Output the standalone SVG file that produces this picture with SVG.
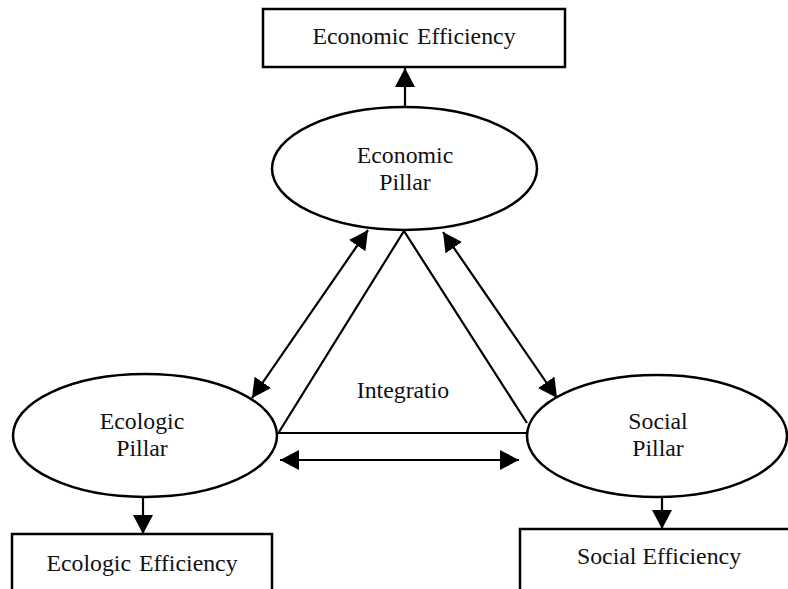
<svg xmlns="http://www.w3.org/2000/svg" width="788" height="589" viewBox="0 0 788 589">
<style>
.box{fill:#fff;stroke:#000;stroke-width:2.5}
.ell{fill:#fff;stroke:#000;stroke-width:2.5}
.ln{fill:none;stroke:#000;stroke-width:2.2}
.t{font-family:"Liberation Serif","Times New Roman",serif;font-size:23.8px;fill:#111;text-anchor:middle}
</style>
<defs>
<marker id="ah" markerUnits="userSpaceOnUse" markerWidth="22" markerHeight="22" refX="19" refY="10" orient="auto-start-reverse" viewBox="0 0 22 22">
<path d="M0,0 L19,10 L0,20 z" fill="#000"/>
</marker>
</defs>
<rect width="788" height="589" fill="#fff"/>
<g id="connectors">
<line class="ln" x1="405" y1="107" x2="405" y2="68" marker-end="url(#ah)"/>
<line class="ln" x1="143" y1="497" x2="143" y2="534" marker-end="url(#ah)"/>
<line class="ln" x1="662" y1="497" x2="662" y2="529" marker-end="url(#ah)"/>
<polyline class="ln" points="279,432 404,231 527,423"/>
<line class="ln" x1="278" y1="433" x2="527" y2="433"/>
<line class="ln" x1="368" y1="230" x2="252" y2="398" marker-start="url(#ah)" marker-end="url(#ah)"/>
<line class="ln" x1="443" y1="232" x2="557" y2="398" marker-start="url(#ah)" marker-end="url(#ah)"/>
<line class="ln" x1="280" y1="460" x2="519" y2="460" marker-start="url(#ah)" marker-end="url(#ah)"/>
</g>
<g id="economic-efficiency">
<rect class="box" x="263" y="9" width="302" height="58"/>
<text class="t" x="414" y="44" word-spacing="2">Economic Efficiency</text>
</g>
<g id="economic-pillar">
<ellipse class="ell" cx="404.5" cy="168.5" rx="132.5" ry="61.5"/>
<text class="t" x="405" y="163">Economic</text>
<text class="t" x="405" y="190">Pillar</text>
</g>
<g id="ecologic-pillar">
<ellipse class="ell" cx="145" cy="435.5" rx="132" ry="61.5"/>
<text class="t" x="142" y="429">Ecologic</text>
<text class="t" x="142" y="456">Pillar</text>
</g>
<g id="social-pillar">
<ellipse class="ell" cx="657" cy="436" rx="130" ry="61"/>
<text class="t" x="658" y="429">Social</text>
<text class="t" x="658" y="456">Pillar</text>
</g>
<g id="integration">
<text class="t" x="403" y="398">Integratio</text>
</g>
<g id="ecologic-efficiency">
<rect class="box" x="12" y="534" width="260" height="70"/>
<text class="t" x="142" y="571" word-spacing="2">Ecologic Efficiency</text>
</g>
<g id="social-efficiency">
<rect class="box" x="520" y="529" width="270" height="70"/>
<text class="t" x="659" y="564">Social Efficiency</text>
</g>
</svg>
